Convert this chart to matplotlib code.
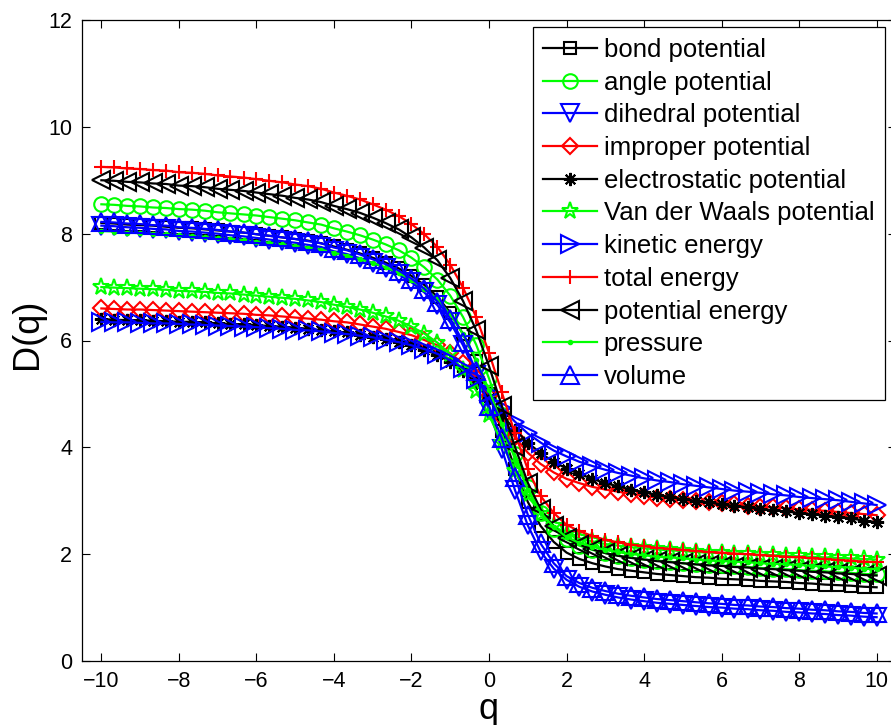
import matplotlib
matplotlib.use("Agg")
import matplotlib.pyplot as plt

plt.rcParams['font.family'] = ['Liberation Sans', 'DejaVu Sans']

q = [-10.00, -9.67, -9.33, -9.00, -8.67, -8.33, -8.00, -7.67, -7.33, -7.00,
     -6.67, -6.33, -6.00, -5.67, -5.33, -5.00, -4.67, -4.33, -4.00, -3.67,
     -3.33, -3.00, -2.67, -2.33, -2.00, -1.67, -1.33, -1.00, -0.67, -0.33,
     0.00, 0.33, 0.67, 1.00, 1.33, 1.67, 2.00, 2.33, 2.67, 3.00,
     3.33, 3.67, 4.00, 4.33, 4.67, 5.00, 5.33, 5.67, 6.00, 6.33,
     6.67, 7.00, 7.33, 7.67, 8.00, 8.33, 8.67, 9.00, 9.33, 9.67, 10.00]

bond = [8.20, 8.19, 8.17, 8.16, 8.15, 8.13, 8.11, 8.10, 8.08, 8.06, 8.04, 8.02, 7.99, 7.96, 7.93, 7.90, 7.87, 7.82,
        7.76, 7.70, 7.63, 7.55, 7.46, 7.35, 7.21, 7.04, 6.82, 6.52, 6.12, 5.61, 5.00, 4.31, 3.60, 2.98, 2.53, 2.23, 2.03, 1.91, 1.83, 1.77,
        1.72, 1.69, 1.66, 1.63, 1.61, 1.59, 1.57, 1.56, 1.54, 1.53, 1.52, 1.50, 1.49, 1.48, 1.46, 1.45, 1.43, 1.42, 1.41, 1.39, 1.38]
angle = [8.55, 8.54, 8.52, 8.51, 8.49, 8.48, 8.46, 8.45, 8.43, 8.40, 8.38, 8.36, 8.34, 8.31, 8.28, 8.25, 8.21, 8.17,
         8.10, 8.04, 7.97, 7.89, 7.80, 7.69, 7.55, 7.37, 7.14, 6.84, 6.44, 5.92, 5.29, 4.60, 3.87, 3.25, 2.78, 2.48, 2.28, 2.16, 2.08, 2.02,
         1.97, 1.93, 1.90, 1.88, 1.86, 1.83, 1.81, 1.80, 1.79, 1.77, 1.76, 1.74, 1.73, 1.72, 1.70, 1.69, 1.68, 1.66, 1.65, 1.63, 1.62]
dihedral = [8.15, 8.14, 8.12, 8.11, 8.09, 8.08, 8.05, 8.04, 8.02, 8.00, 7.97, 7.95, 7.92, 7.89, 7.86, 7.83, 7.79, 7.75,
            7.67, 7.62, 7.54, 7.45, 7.36, 7.24, 7.09, 6.90, 6.66, 6.34, 5.91, 5.36, 4.70, 3.97, 3.20, 2.54, 2.05, 1.73, 1.52, 1.39, 1.30, 1.24,
            1.19, 1.15, 1.12, 1.09, 1.07, 1.05, 1.03, 1.01, 1.00, 0.98, 0.97, 0.95, 0.94, 0.92, 0.91, 0.89, 0.88, 0.86, 0.85, 0.83, 0.82]
improper = [6.60, 6.59, 6.58, 6.58, 6.57, 6.56, 6.55, 6.54, 6.53, 6.52, 6.51, 6.50, 6.48, 6.47, 6.45, 6.43, 6.41, 6.39, 6.36, 6.34,
            6.30, 6.26, 6.22, 6.16, 6.10, 6.01, 5.91, 5.76, 5.57, 5.31, 4.97, 4.57, 4.19, 3.90, 3.69, 3.53, 3.41, 3.33, 3.26, 3.21,
            3.17, 3.13, 3.09, 3.06, 3.04, 3.01, 2.99, 2.97, 2.95, 2.93, 2.91, 2.89, 2.88, 2.86, 2.84, 2.83, 2.81, 2.79, 2.77, 2.75, 2.73]
electrostatic = [6.40, 6.39, 6.38, 6.38, 6.37, 6.36, 6.35, 6.35, 6.34, 6.32, 6.31, 6.30, 6.29, 6.27, 6.26, 6.24, 6.22, 6.19, 6.17, 6.15,
                 6.11, 6.07, 6.03, 5.97, 5.91, 5.83, 5.73, 5.60, 5.43, 5.20, 4.92, 4.61, 4.33, 4.09, 3.89, 3.73, 3.60, 3.50, 3.41, 3.33,
                 3.27, 3.21, 3.16, 3.11, 3.07, 3.03, 3.00, 2.97, 2.93, 2.90, 2.88, 2.85, 2.82, 2.80, 2.77, 2.75, 2.72, 2.70, 2.67, 2.63, 2.60]
vdw = [7.00, 6.99, 6.98, 6.97, 6.96, 6.95, 6.93, 6.92, 6.91, 6.89, 6.88, 6.86, 6.84, 6.82, 6.80, 6.78, 6.75, 6.72,
       6.67, 6.63, 6.58, 6.52, 6.45, 6.37, 6.26, 6.13, 5.96, 5.74, 5.44, 5.06, 4.60, 4.09, 3.56, 3.10, 2.76, 2.53, 2.38, 2.30, 2.24, 2.19,
       2.16, 2.13, 2.11, 2.09, 2.07, 2.06, 2.04, 2.03, 2.02, 2.01, 2.00, 1.99, 1.98, 1.97, 1.96, 1.95, 1.94, 1.93, 1.92, 1.91, 1.90]
kinetic = [6.35, 6.34, 6.34, 6.33, 6.32, 6.32, 6.31, 6.30, 6.29, 6.28, 6.27, 6.26, 6.25, 6.23, 6.22, 6.20, 6.19, 6.17, 6.14, 6.12,
           6.09, 6.06, 6.01, 5.97, 5.91, 5.84, 5.75, 5.63, 5.48, 5.27, 5.01, 4.74, 4.48, 4.26, 4.09, 3.94, 3.83, 3.73, 3.65, 3.58,
           3.52, 3.47, 3.42, 3.38, 3.35, 3.31, 3.28, 3.25, 3.22, 3.19, 3.17, 3.15, 3.12, 3.10, 3.07, 3.05, 3.03, 3.01, 2.98, 2.95, 2.92]
total = [9.25, 9.24, 9.22, 9.21, 9.19, 9.18, 9.15, 9.14, 9.12, 9.09, 9.07, 9.05, 9.02, 8.99, 8.96, 8.92, 8.89, 8.84,
         8.77, 8.71, 8.64, 8.55, 8.45, 8.33, 8.18, 7.99, 7.75, 7.42, 6.99, 6.44, 5.77, 5.03, 4.26, 3.59, 3.09, 2.77, 2.55, 2.43, 2.34, 2.27,
         2.22, 2.18, 2.15, 2.12, 2.10, 2.08, 2.06, 2.04, 2.03, 2.01, 2.00, 1.98, 1.97, 1.95, 1.94, 1.92, 1.91, 1.89, 1.88, 1.86, 1.85]
potential = [9.00, 8.99, 8.97, 8.96, 8.94, 8.93, 8.90, 8.89, 8.87, 8.84, 8.82, 8.80, 8.77, 8.74, 8.71, 8.67, 8.64, 8.59,
             8.52, 8.46, 8.39, 8.30, 8.20, 8.08, 7.93, 7.74, 7.50, 7.17, 6.74, 6.19, 5.52, 4.78, 4.01, 3.34, 2.84, 2.52, 2.30, 2.18, 2.09, 2.02,
             1.97, 1.93, 1.90, 1.87, 1.85, 1.83, 1.81, 1.79, 1.78, 1.76, 1.75, 1.73, 1.72, 1.70, 1.69, 1.67, 1.66, 1.64, 1.63, 1.61, 1.60]
pressure = [8.05, 8.04, 8.02, 8.01, 8.00, 7.99, 7.97, 7.96, 7.94, 7.92, 7.90, 7.88, 7.85, 7.83, 7.80, 7.77, 7.74, 7.70,
            7.64, 7.59, 7.52, 7.45, 7.37, 7.27, 7.13, 6.97, 6.77, 6.49, 6.12, 5.64, 5.07, 4.44, 3.78, 3.21, 2.78, 2.51, 2.32, 2.21, 2.14, 2.08,
            2.04, 2.00, 1.98, 1.95, 1.94, 1.92, 1.90, 1.88, 1.87, 1.86, 1.85, 1.83, 1.82, 1.81, 1.80, 1.78, 1.77, 1.76, 1.75, 1.73, 1.72]
volume = [8.22, 8.21, 8.19, 8.18, 8.16, 8.15, 8.12, 8.11, 8.09, 8.07, 8.04, 8.02, 7.99, 7.96, 7.93, 7.90, 7.86, 7.82,
          7.74, 7.69, 7.61, 7.52, 7.43, 7.31, 7.16, 6.97, 6.73, 6.41, 5.98, 5.43, 4.77, 4.17, 3.45, 2.74, 2.20, 1.83, 1.59, 1.46, 1.37, 1.31,
          1.26, 1.22, 1.19, 1.16, 1.14, 1.12, 1.10, 1.08, 1.07, 1.05, 1.04, 1.02, 1.01, 0.99, 0.98, 0.96, 0.95, 0.93, 0.92, 0.90, 0.89]

labels = ['bond potential', 'angle potential', 'dihedral potential', 'improper potential',
          'electrostatic potential', 'Van der Waals potential', 'kinetic energy', 'total energy',
          'potential energy', 'pressure', 'volume']
series = [bond, angle, dihedral, improper, electrostatic, vdw, kinetic, total, potential, pressure, volume]
colors = ['#000000', '#00ff00', '#0000ff', '#ff0000', '#000000', '#00ff00', '#0000ff', '#ff0000',
          '#000000', '#00ff00', '#0000ff']
markers = ['s', 'o', 'v', 'D', (8, 2, 0), '*', '>', '+', '<', '.', '^']
msizes = [8.5, 10.5, 12.5, 8, 9.5, 12.5, 12.5, 10, 12.5, 5, 12.5]

xticks = [-10, -8, -6, -4, -2, 0, 2, 4, 6, 8, 10]
yticks = [0, 2, 4, 6, 8, 10, 12]

W, H = 891, 725
fig = plt.figure(figsize=(W / 100, H / 100), dpi=100)
ax = fig.add_axes([82 / W, 1 - 661 / H, (896 - 82) / W, (661 - 20) / H])

for ys, lab, c, m, ms in zip(series, labels, colors, markers, msizes):
    ax.plot(q, ys, color=c, marker=m, markersize=ms, markerfacecolor='none' if m != '.' else c,
            markeredgecolor=c, markeredgewidth=1.5, linewidth=1.6, label=lab)

ax.set_xlim(-10.5, 10.5)
ax.set_ylim(0, 12)
ax.set_xticks(xticks)
ax.set_yticks(yticks)
ax.tick_params(direction='in', length=5.5, width=0.8, top=True, right=True,
               labelsize=15.5, pad=7)
for sp in ax.spines.values():
    sp.set_linewidth(0.9)

ax.set_xlabel('q', fontsize=26, labelpad=0)
ax.set_ylabel('D(q)', fontsize=26, labelpad=0)
ax.yaxis.set_label_coords(-0.045, 0.51)

leg = ax.legend(loc='upper right', bbox_to_anchor=(885 / W, 1 - 27 / H),
                bbox_transform=fig.transFigure, borderaxespad=0, fontsize=18.5,
                numpoints=1, handlelength=2.1, handletextpad=0.24, labelspacing=0.34,
                borderpad=0.42, fancybox=False, framealpha=1, edgecolor='black')
leg.get_frame().set_linewidth(0.9)

fig.savefig('out.png', dpi=100)
